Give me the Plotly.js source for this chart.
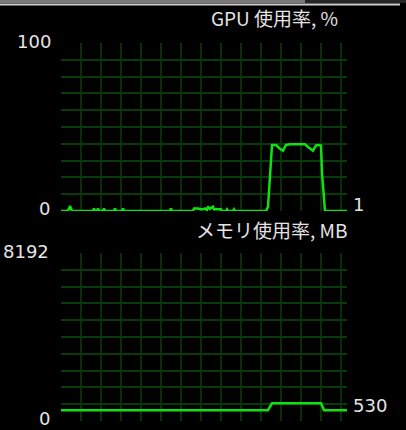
<!DOCTYPE html>
<html>
<head>
<meta charset="utf-8">
<script src="https://cdn.plot.ly/plotly-3.0.1.min.js"></script>
<style>
  html, body { margin: 0; padding: 0; background: #000; }
  #chart { width: 406px; height: 430px; }
</style>
</head>
<body>
<div id="chart"></div>
<script>
// ─── data (x = sample position along the scrolling graph) ───
var gpuTime = [0, 6, 8, 9, 11, 32, 33, 34, 36, 37, 38, 42, 43, 44, 53, 54, 55, 61, 62, 63,
  109, 110, 111, 132, 133, 137, 140, 142, 144, 146, 147, 149, 150, 152, 153, 155, 160, 161,
  165, 166, 167, 172, 173, 174, 176, 205, 207, 209, 211, 215, 218, 222, 225, 229, 244, 247,
  252, 255, 258, 260, 261, 264, 286];
var gpuLoad = [0, 0, 1, 3, 0, 0, 1.5, 0, 0, 1.5, 0, 0, 1.5, 0, 0, 1.5, 0, 0, 1.5, 0,
  0, 1.5, 0, 0, 1.5, 1.5, 1, 1, 1.5, 0.5, 2.6, 1.2, 1.8, 2.6, 1, 1, 1, 0,
  0, 1, 0, 0, 1, 0, 0, 0, 2.4, 22.8, 39.3, 39.3, 37.5, 35.9, 39.3, 39.7, 39.7, 38.1,
  35.9, 39, 39.3, 39, 22.6, 0, 0];

var memTime = [0, 207, 211, 260, 263, 286];
var memUsed = [530, 530, 860, 860, 530, 530];

var gpuMax = 100;
var memMax = 8192;
var gpuNow = '1';
var memNow = '530';
var gpuTitle = 'GPU 使用率, %';
var memTitle = 'メモリ使用率, MB';

// ─── style ───
var W = 406, H = 430;
var lineGreen = '#12e012';
var gridGreen = '#062f06';
var textCol = '#e4e4e4';
var titleFont = 'Noto Sans CJK JP, sans-serif';
var numFont = 'DejaVu Sans, sans-serif';

function px(x) { return x / W; }
function py(y) { return 1 - y / H; }

function axisX(anchor) {
  return {
    domain: [px(61), px(347)], range: [0, 286], anchor: anchor,
    showgrid: true, gridcolor: gridGreen, gridwidth: 2,
    tick0: 0, dtick: 20, zeroline: false, showline: false,
    showticklabels: false, ticks: '', fixedrange: true
  };
}
function axisY(anchor, domain, max) {
  return {
    domain: domain, range: [0, max], anchor: anchor,
    showgrid: true, gridcolor: '#093a09', gridwidth: 2,
    tick0: 0, dtick: max / 10, zeroline: false, showline: false,
    showticklabels: false, ticks: '', fixedrange: true
  };
}

var traces = [
  { type: 'scatter', mode: 'lines', x: gpuTime, y: gpuLoad, xaxis: 'x', yaxis: 'y',
    line: { color: lineGreen, width: 2.5 }, hoverinfo: 'skip', cliponaxis: false },
  { type: 'scatter', mode: 'lines', x: memTime, y: memUsed, xaxis: 'x2', yaxis: 'y2',
    line: { color: lineGreen, width: 2.5 }, hoverinfo: 'skip', cliponaxis: false }
];

function label(text, x, y, anchor, family, size) {
  return { text: text, xref: 'paper', yref: 'paper', x: px(x), y: py(y),
    xanchor: anchor, yanchor: 'middle', showarrow: false,
    font: { family: family, size: size, color: textCol } };
}

var layout = {
  width: W, height: H,
  margin: { l: 0, r: 0, t: 0, b: 0 },
  paper_bgcolor: '#000', plot_bgcolor: '#000',
  showlegend: false,
  xaxis: axisX('y'),
  yaxis: axisY('x', [py(211), py(43)], gpuMax),
  xaxis2: axisX('y2'),
  yaxis2: axisY('x2', [py(421), py(253)], memMax),
  annotations: [
    label(gpuTitle, 340, 18, 'right', titleFont, 19),
    label(memTitle, 349, 230, 'right', titleFont, 19),
    label(String(gpuMax), 53, 41, 'right', numFont, 18),
    label('0', 52, 208, 'right', numFont, 18),
    label(String(memMax), 51, 251, 'right', numFont, 18),
    label('0', 52, 418, 'right', numFont, 18),
    label(gpuNow, 351, 205, 'left', numFont, 18),
    label(memNow, 351, 405, 'left', numFont, 18)
  ],
  shapes: [
    // window frame strip along the top edge
    { type: 'rect', xref: 'paper', yref: 'paper', x0: 0, x1: px(305), y0: py(3), y1: 1,
      fillcolor: '#7a7a7a', line: { width: 0 } },
    { type: 'rect', xref: 'paper', yref: 'paper', x0: px(305), x1: 1, y0: py(3), y1: 1,
      fillcolor: '#262626', line: { width: 0 } },
    { type: 'line', xref: 'paper', yref: 'paper', x0: 0, x1: px(400), y0: py(4.5), y1: py(4.5),
      line: { color: '#cfcfcf', width: 2 } }
  ]
};

Plotly.newPlot('chart', traces, layout, { staticPlot: true, displayModeBar: false });
</script>
</body>
</html>
